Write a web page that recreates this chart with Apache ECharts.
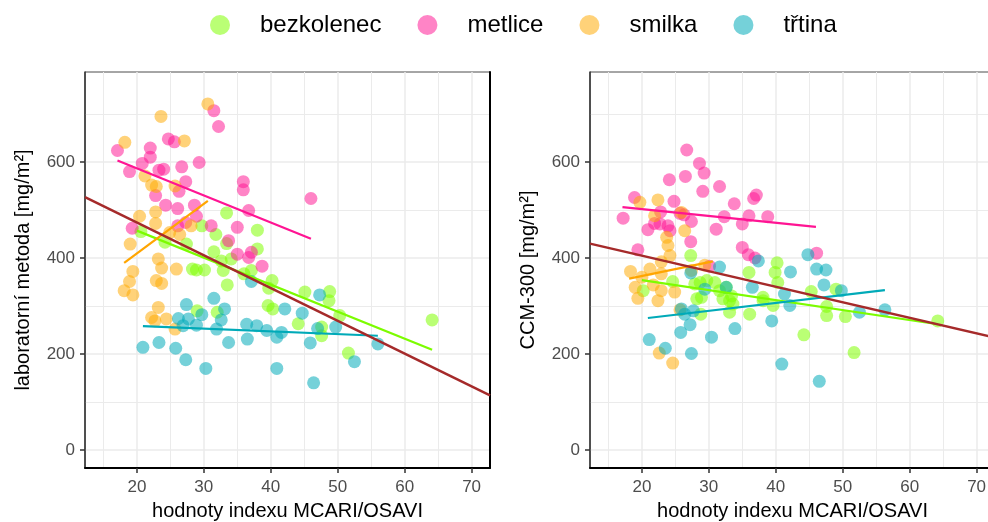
<!DOCTYPE html>
<html>
<head>
<meta charset="utf-8">
<script src="https://cdn.jsdelivr.net/npm/echarts@6/dist/echarts.min.js"></script>
<style>
  html, body { margin: 0; padding: 0; background: #fff; }
  #chart { width: 988px; height: 522px; }
</style>
</head>
<body>
<div id="chart"></div>
<script>
// Species (legend order)
const species = ['bezkolenec', 'metlice', 'smilka', 'třtina'];

// Laboratory method [mg/m2] vs MCARI/OSAVI index: [index, value]
const labBezkolenec = [
  [20.6, 455], [24.2, 433], [27.4, 429], [29.7, 467], [31.8, 449], [33.4, 494], [33.4, 430],
  [31.5, 413], [32.6, 394], [34.1, 398], [38.0, 458], [38.0, 419], [28.3, 377], [28.9, 375],
  [30.1, 375], [32.9, 374], [33.5, 344], [36.0, 367], [37.1, 374], [39.7, 337], [40.2, 353],
  [29.0, 290], [32.0, 287], [39.6, 301], [40.3, 294], [45.1, 329], [48.8, 330], [48.7, 311],
  [50.3, 280], [64.1, 271], [44.1, 263], [47.6, 256], [47.6, 238], [51.6, 202]
];
const labMetlice = [
  [17.1, 624], [18.9, 580], [19.3, 462], [20.8, 597], [22.0, 629], [22.0, 610], [22.8, 530],
  [23.3, 583], [24.0, 585], [24.3, 510], [24.7, 648], [25.6, 642], [26.1, 503], [26.1, 467],
  [26.3, 539], [26.7, 590], [27.3, 559], [27.3, 474], [28.6, 510], [28.9, 487], [29.3, 599],
  [31.1, 467], [31.5, 707], [32.2, 674], [33.7, 436], [35.0, 464], [35.0, 408], [35.9, 559],
  [35.9, 542], [36.7, 499], [36.7, 401], [37.1, 412], [38.7, 383], [46.0, 524]
];
const labSmilka = [
  [18.2, 641], [23.6, 695], [27.1, 644], [30.6, 721], [21.2, 571], [22.2, 552], [22.9, 549],
  [25.7, 550], [20.4, 487], [22.8, 496], [22.8, 472], [28.1, 467], [26.4, 449], [24.9, 453],
  [19.0, 429], [23.2, 398], [19.4, 372], [23.7, 379], [25.9, 377], [18.9, 351], [22.9, 353],
  [23.7, 347], [18.1, 332], [19.4, 323], [23.2, 297], [22.2, 276], [22.7, 269], [24.4, 273],
  [25.7, 252]
];
const labTrtina = [
  [20.9, 214], [23.3, 224], [25.8, 212], [27.3, 188], [30.3, 170], [27.4, 303], [31.5, 316],
  [29.7, 282], [33.1, 294], [32.6, 271], [26.2, 274], [27.7, 273], [26.9, 259], [28.9, 260],
  [31.9, 252], [36.4, 262], [37.9, 259], [39.4, 249], [40.9, 235], [33.7, 224], [36.5, 231],
  [37.1, 351], [40.9, 170], [47.3, 323], [42.1, 294], [44.7, 285], [47.0, 253], [49.7, 256],
  [41.6, 245], [45.9, 223], [56.0, 221], [52.5, 184], [46.4, 140]
];

// CCM-300 [mg/m2] vs MCARI/OSAVI index: [index, value]
const ccmBezkolenec = [
  [27.3, 405], [36.0, 370], [20.2, 332], [24.6, 351], [27.9, 346], [28.7, 349], [29.7, 353],
  [30.9, 349], [28.2, 315], [28.9, 318], [28.8, 283], [32.1, 315], [33.1, 311], [33.6, 304],
  [31.6, 332], [32.6, 339], [33.4, 321], [33.1, 287], [36.1, 283], [38.1, 311], [39.6, 301],
  [39.9, 370], [40.2, 390], [40.3, 349], [45.3, 330], [49.0, 335], [38.1, 318], [47.6, 299],
  [47.6, 280], [50.4, 278], [64.2, 269], [44.2, 240], [51.7, 203]
];
const ccmMetlice = [
  [26.7, 625], [28.6, 597], [29.3, 577], [24.1, 563], [26.5, 570], [29.1, 539], [31.6, 549],
  [37.1, 531], [36.7, 524], [18.9, 526], [24.8, 518], [33.8, 513], [17.2, 483], [22.8, 496],
  [25.7, 493], [26.3, 490], [32.3, 486], [36.0, 488], [38.8, 486], [21.9, 472], [22.7, 471],
  [23.9, 467], [24.2, 457], [27.4, 476], [20.9, 459], [31.1, 460], [35.0, 471], [27.3, 434],
  [19.4, 417], [35.0, 422], [35.9, 407], [36.9, 400], [30.1, 383], [46.1, 410]
];
const ccmSmilka = [
  [19.7, 516], [22.4, 521], [21.9, 488], [25.9, 495], [26.4, 457], [23.7, 443], [23.9, 426],
  [24.2, 405], [22.9, 392], [21.2, 377], [18.3, 372], [20.0, 360], [27.4, 374], [29.4, 385],
  [22.9, 367], [19.0, 339], [19.4, 316], [21.7, 344], [22.9, 332], [24.9, 329], [22.4, 311],
  [25.7, 292], [22.6, 202], [24.6, 181]
];
const ccmTrtina = [
  [37.4, 394], [31.6, 381], [27.3, 369], [29.4, 335], [32.6, 339], [36.5, 339], [25.9, 294],
  [26.4, 283], [27.7, 290], [27.2, 261], [25.8, 245], [21.1, 230], [23.5, 212], [27.4, 201],
  [30.4, 235], [33.9, 253], [39.4, 269], [44.8, 407], [42.2, 371], [46.1, 377], [47.5, 375],
  [47.2, 344], [49.8, 332], [41.3, 325], [42.1, 301], [52.5, 287], [56.3, 292], [40.9, 179],
  [46.5, 143]
];

// Linear fits: [start, end] per species, plus the pooled fit over the whole range
const labFitBezkolenec = [[20.0, 457], [64.1, 209]];
const labFitMetlice = [[17.1, 603], [46.0, 440]];
const labFitSmilka = [[18.1, 390], [30.6, 519]];
const labFitTrtina = [[20.9, 258], [56.0, 238]];
const labFitAll = [[12.25, 527], [72.75, 114]];

const ccmFitBezkolenec = [[20.0, 354], [64.2, 262]];
const ccmFitMetlice = [[17.1, 506], [46.0, 465]];
const ccmFitSmilka = [[18.1, 357], [30.6, 393]];
const ccmFitTrtina = [[20.9, 275], [56.3, 333]];
const ccmFitAll = [[12.25, 430], [72.75, 234]];

// Axis ticks
const xTicks = [20, 30, 40, 50, 60, 70];
const xMinor = [15, 25, 35, 45, 55, 65];
const yTicks = [0, 200, 400, 600];
const yMinor = [100, 300, 500, 700];

const xTitle = 'hodnoty indexu MCARI/OSAVI';
const yTitleLab = 'laboratorní metoda [mg/m²]';
const yTitleCcm = 'CCM-300 [mg/m²]';

const pointColors = ['rgba(127,255,0,0.68)', 'rgba(255,20,147,0.66)', 'rgba(255,170,0,0.66)', 'rgba(0,170,185,0.68)'];
const lineColors = ['#7CFC00', '#FF1493', '#FFA500', '#00AAB8'];
const pooledColor = '#A52A2A';

const FONT = '"Liberation Sans", Arial, sans-serif';
const X_MIN = 12.25, X_MAX = 72.75, Y_MIN = -37.5, Y_MAX = 787.5;

// two panels side by side; the second runs slightly past the right edge of the page
const grids = [
  { left: 85, top: 72, width: 405, height: 396, show: true, borderColor: '#4d4d4d', borderWidth: 1, outerBoundsMode: 'none', containLabel: false },
  { left: 590, top: 72, width: 405, height: 396, show: true, borderColor: '#4d4d4d', borderWidth: 1, outerBoundsMode: 'none', containLabel: false }
];

function mainX(gridIndex) {
  return {
    type: 'value', gridIndex, min: X_MIN, max: X_MAX,
    name: xTitle, nameLocation: 'middle', nameGap: 33,
    nameTextStyle: { color: '#000', fontSize: 20, fontFamily: FONT },
    axisLine: { show: true, onZero: false, lineStyle: { color: '#000', width: 2 } },
    axisTick: { show: true, customValues: xTicks, length: 5, lineStyle: { color: '#333', width: 1.5 } },
    axisLabel: { show: true, customValues: xTicks, margin: 11, color: '#4D4D4D', fontSize: 17, fontFamily: FONT },
    splitLine: { show: true, lineStyle: { color: '#EBEBEB', width: 1.5 } }
  };
}
function minorX(gridIndex) {
  return {
    type: 'value', gridIndex, min: X_MIN, max: X_MAX,
    axisLine: { show: false }, axisLabel: { show: false },
    axisTick: { show: false, customValues: xMinor },
    splitLine: { show: true, lineStyle: { color: '#EBEBEB', width: 1 } }
  };
}
function mainY(gridIndex, title, gap) {
  return {
    type: 'value', gridIndex, min: Y_MIN, max: Y_MAX,
    name: title, nameLocation: 'middle', nameGap: gap, nameRotate: 90,
    nameTextStyle: { color: '#000', fontSize: 20, fontFamily: FONT },
    axisLine: { show: true, onZero: false, lineStyle: { color: '#333', width: 1.5 } },
    axisTick: { show: true, customValues: yTicks, length: 5, lineStyle: { color: '#333', width: 1.5 } },
    axisLabel: { show: true, customValues: yTicks, margin: 10, color: '#4D4D4D', fontSize: 17, fontFamily: FONT },
    splitLine: { show: true, lineStyle: { color: '#EBEBEB', width: 1.5 } }
  };
}
function minorY(gridIndex) {
  return {
    type: 'value', gridIndex, min: Y_MIN, max: Y_MAX,
    axisLine: { show: false }, axisLabel: { show: false },
    axisTick: { show: false, customValues: yMinor },
    splitLine: { show: true, lineStyle: { color: '#EBEBEB', width: 1 } }
  };
}
// heavy frame edge on the right side of the first panel
const rightEdgeY = {
  type: 'value', gridIndex: 0, position: 'right', min: Y_MIN, max: Y_MAX,
  axisLine: { show: true, onZero: false, lineStyle: { color: '#000', width: 2 } },
  axisTick: { show: false }, axisLabel: { show: false }, splitLine: { show: false }
};

const xAxes = [mainX(0), minorX(0), mainX(1), minorX(1)];
const yAxes = [mainY(0, yTitleLab, 52), minorY(0), rightEdgeY, mainY(1, yTitleCcm, 52), minorY(1)];

const labPoints = [labBezkolenec, labMetlice, labSmilka, labTrtina];
const ccmPoints = [ccmBezkolenec, ccmMetlice, ccmSmilka, ccmTrtina];
const labFits = [labFitBezkolenec, labFitMetlice, labFitSmilka, labFitTrtina];
const ccmFits = [ccmFitBezkolenec, ccmFitMetlice, ccmFitSmilka, ccmFitTrtina];

const series = [];
function scatter(name, data, xi, yi, color) {
  return {
    type: 'scatter', name, data, xAxisIndex: xi, yAxisIndex: yi,
    symbol: 'circle', symbolSize: 13, z: 2,
    itemStyle: { color, borderWidth: 0 },
    emphasis: { disabled: true }
  };
}
function fitLine(name, data, xi, yi, color, width) {
  return {
    type: 'line', name, data, xAxisIndex: xi, yAxisIndex: yi,
    showSymbol: false, symbol: 'none', z: 3, silent: true,
    lineStyle: { color, width }, emphasis: { disabled: true }
  };
}
species.forEach((sp, i) => {
  series.push(scatter(sp, labPoints[i], 0, 0, pointColors[i]));
  series.push(scatter(sp, ccmPoints[i], 2, 3, pointColors[i]));
});
species.forEach((sp, i) => {
  series.push(fitLine(sp, labFits[i], 0, 0, lineColors[i], 2.2));
  series.push(fitLine(sp, ccmFits[i], 2, 3, lineColors[i], 2.2));
});
series.push(fitLine('pooled', labFitAll, 0, 0, pooledColor, 2.5));
series.push(fitLine('pooled', ccmFitAll, 2, 3, pooledColor, 2.5));

const chart = echarts.init(document.getElementById('chart'), null, { renderer: 'canvas' });
chart.setOption({
  animation: false,
  backgroundColor: '#fff',
  legend: {
    data: species.map((sp, i) => ({ name: sp, icon: 'circle', itemStyle: { color: pointColors[i] } })),
    left: 205, top: 8,
    itemWidth: 20, itemHeight: 20, itemGap: 36,
    textStyle: { color: '#000', fontSize: 24, fontFamily: FONT, padding: [0, 0, 0, 25] },
    selectedMode: false
  },
  grid: grids,
  xAxis: xAxes,
  yAxis: yAxes,
  series
});
</script>
</body>
</html>
